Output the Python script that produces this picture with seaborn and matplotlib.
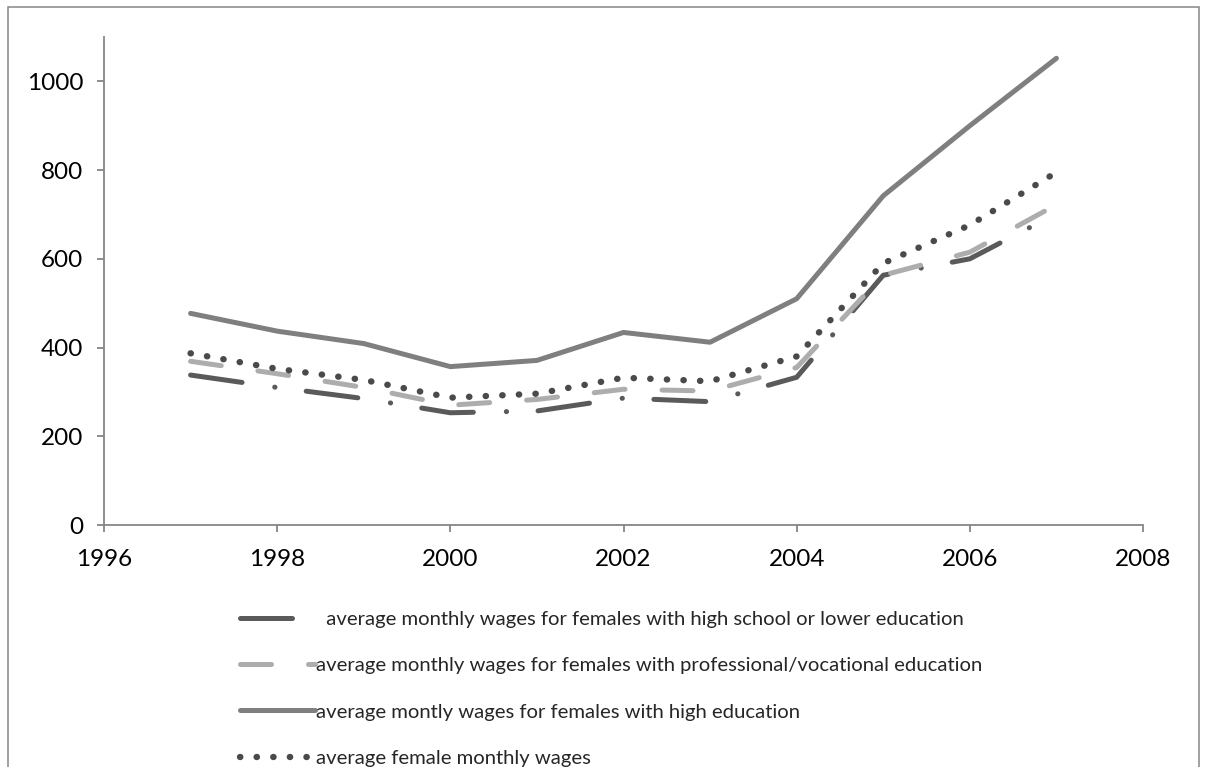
import matplotlib
matplotlib.use("Agg")

import matplotlib.pyplot as plt
import matplotlib.patches as mpatches
import pandas as pd
import seaborn as sns

# values
years = [1997, 1998, 1999, 2000, 2001, 2002, 2003, 2004, 2005, 2006, 2007]
high_school = [338, 310, 285, 253, 257, 286, 278, 333, 563, 600, 702]
vocational = [369, 341, 310, 270, 283, 306, 302, 355, 563, 615, 722]
higher_edu = [477, 437, 409, 357, 371, 434, 412, 510, 742, 900, 1052]
female_avg = [387, 352, 327, 287, 296, 332, 324, 380, 590, 676, 795]

labels = [
    "  average monthly wages for females with high school or lower education",
    "average monthly wages for females with professional/vocational education",
    "average montly wages for females with high education",
    "average female monthly wages",
]
x_ticks = [1996, 1998, 2000, 2002, 2004, 2006, 2008]
y_ticks = [0, 200, 400, 600, 800, 1000]

colors = ["#5a5a5a", "#adadad", "#7f7f7f", "#4a4a4a"]
widths = [3.6, 3.6, 3.6, 4.6]
dash_styles = [(10.4, 6.6, 0.05, 6.3), (6.2, 7.4), "", (0.05, 2.55)]

sns.set_style("white")
plt.rcParams["font.family"] = ["Lato", "DejaVu Sans"]

fig = plt.figure(figsize=(12.06, 7.67), dpi=100)
ax = fig.add_axes([104 / 1206, 1 - 525 / 767, (1143 - 104) / 1206, (525 - 37) / 767])

series = [high_school, vocational, higher_edu, female_avg]
for vals, label, color, lw, dash in zip(series, labels, colors, widths, dash_styles):
    df = pd.DataFrame({"year": years, "wage": vals})
    line_kw = dict(color=color, linewidth=lw, solid_capstyle="round",
                   dash_capstyle="round", solid_joinstyle="round", label=label)
    if dash:
        line_kw["dashes"] = dash
    sns.lineplot(data=df, x="year", y="wage", ax=ax, legend=False, **line_kw)

ax.set_xlim(1996, 2008)
ax.set_ylim(0, 1100)
ax.set_xticks(x_ticks)
ax.set_yticks(y_ticks)
ax.set_xlabel("")
ax.set_ylabel("")
for side in ["top", "right"]:
    ax.spines[side].set_visible(False)
for side in ["left", "bottom"]:
    ax.spines[side].set_color("#868686")
    ax.spines[side].set_linewidth(1.3)
ax.tick_params(axis="both", direction="out", length=5, width=1.3, color="#868686",
               labelsize=17.5, labelcolor="black", left=True, bottom=True)
ax.tick_params(axis="y", pad=10)
ax.tick_params(axis="x", pad=12)

handles = ax.get_lines()
fig.legend(handles=handles, labels=labels, loc="upper left",
           bbox_to_anchor=(240 / 1206, 1 - 611 / 767), frameon=False,
           fontsize=14.6, handlelength=3.7, handletextpad=0.05, labelspacing=1.43,
           borderpad=0, borderaxespad=0)

# outer chart border, bottom edge runs off the image like in the original
border = mpatches.Rectangle((8 / 1206, -0.05), (1199 - 8) / 1206, 1.05 - 7 / 767,
                            transform=fig.transFigure, fill=False,
                            edgecolor="#868686", linewidth=1.1, clip_on=False)
fig.patches.append(border)

fig.savefig("out.png", dpi=100)
plt.close(fig)
